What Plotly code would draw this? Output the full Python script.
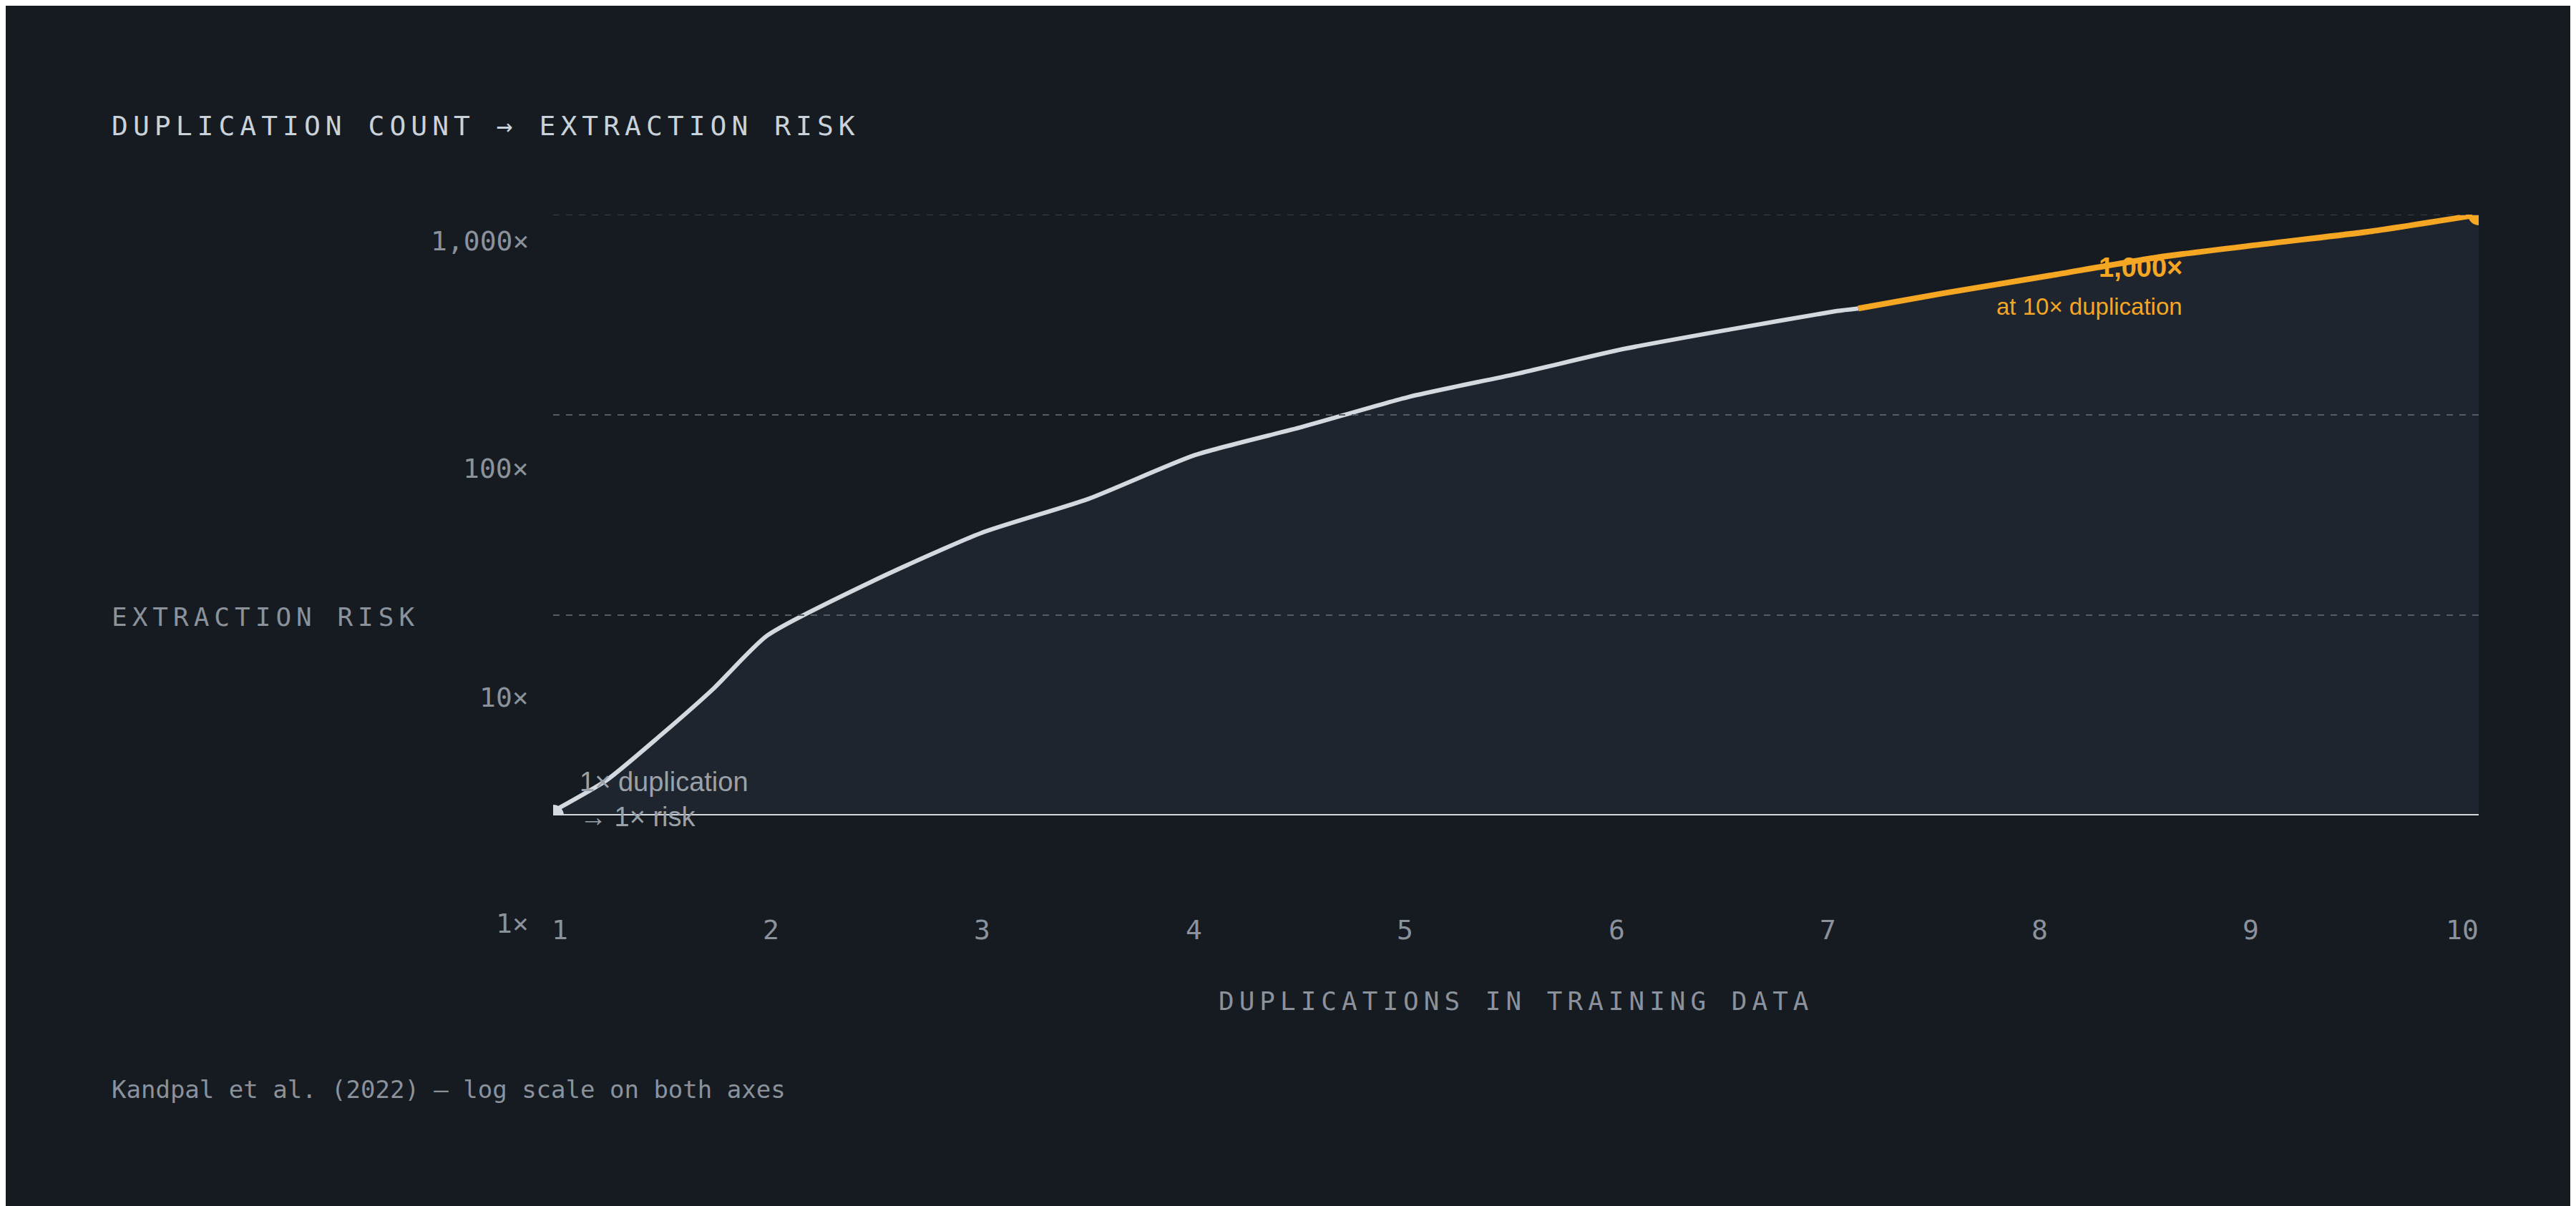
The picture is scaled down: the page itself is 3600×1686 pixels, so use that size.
import plotly.graph_objects as go

# white part of the curve (duplications -> extraction risk)
dup_white = [1, 1.25, 1.5, 1.75, 2, 2.5, 3, 3.5, 4, 4.5, 5, 5.5, 6, 6.5, 7, 7.1]
risk_white = [1.05, 1.5, 2.5, 4.3, 7.9, 14.9, 25.7, 38, 63, 87, 123, 160, 213, 267, 330, 340]
# orange highlighted tail
dup_orange = [7.1, 7.5, 8, 8.5, 9, 9.5, 10]
risk_orange = [340, 405, 497, 612, 713, 826, 1000]

x_ticks = list(range(1, 11))
y_labels = ["1,000×", "100×", "10×", "1×"]
y_label_pos = [0.956, 0.577, 0.197, -0.18]
grid_vals = [10, 100, 1000]

BG = "#161b22"
MONO = "DejaVu Sans Mono"
GRAY = "#8b929b"
ORANGE = "#f5a623"
WHITE = "#d4d9df"

fig = go.Figure()

# baseline at 1x, used as fill floor
fig.add_trace(go.Scatter(x=[1, 10], y=[1, 1], mode="lines",
                         line=dict(color=WHITE, width=4), hoverinfo="skip"))
fig.add_trace(go.Scatter(x=dup_white + dup_orange[1:], y=risk_white + risk_orange[1:],
                         mode="lines", line=dict(width=0, shape="spline", smoothing=0.6),
                         fill="tonexty", fillcolor="#1f252e", hoverinfo="skip"))
fig.add_trace(go.Scatter(x=dup_white, y=risk_white, mode="lines",
                         line=dict(color=WHITE, width=6, shape="spline", smoothing=0.6)))
fig.add_trace(go.Scatter(x=dup_orange, y=risk_orange, mode="lines",
                         line=dict(color=ORANGE, width=8, shape="spline", smoothing=0.6)))
fig.add_trace(go.Scatter(x=[1], y=[1], mode="markers",
                         marker=dict(color=WHITE, size=30)))
fig.add_trace(go.Scatter(x=[10], y=[1000], mode="markers",
                         marker=dict(color=ORANGE, size=30)))

shapes = [dict(type="line", xref="paper", x0=0, x1=1, yref="y", y0=v, y1=v,
               layer="above", line=dict(color="#565c64" if v < 1000 else "#3a4048",
                                        width=2, dash="dash"))
          for v in grid_vals]

annotations = []
for lab, yp in zip(y_labels, y_label_pos):
    annotations.append(dict(text=lab, x=-0.012, y=yp, xref="paper", yref="paper",
                            xanchor="right", yanchor="middle", showarrow=False,
                            font=dict(family=MONO, size=38, color=GRAY)))
for t in x_ticks:
    annotations.append(dict(text=str(t), x=t, y=-0.19, xref="x", yref="paper",
                            xanchor="center", yanchor="middle", showarrow=False,
                            xshift=9 - 32 * (t - 1) / 9,
                            font=dict(family=MONO, size=38, color=GRAY)))

sp = "letter-spacing:7px"
annotations += [
    dict(text=f'<span style="{sp}">DUPLICATION COUNT → EXTRACTION RISK</span>',
         x=-0.23, y=1.148, xref="paper", yref="paper", xanchor="left", yanchor="middle",
         showarrow=False, font=dict(family=MONO, size=38, color="#c9d1d9")),
    dict(text=f'<span style="{sp}">EXTRACTION RISK</span>',
         x=-0.23, y=0.33, xref="paper", yref="paper", xanchor="left", yanchor="middle",
         showarrow=False, font=dict(family=MONO, size=36, color=GRAY)),
    dict(text=f'<span style="{sp}">DUPLICATIONS IN TRAINING DATA</span>',
         x=0.5, y=-0.309, xref="paper", yref="paper", xanchor="center", yanchor="middle",
         showarrow=False, font=dict(family=MONO, size=36, color=GRAY)),
    dict(text="Kandpal et al. (2022) — log scale on both axes",
         x=-0.23, y=-0.456, xref="paper", yref="paper", xanchor="left", yanchor="middle",
         showarrow=False, font=dict(family=MONO, size=34, color=GRAY)),
    dict(text="<b>1,000×</b>", x=0.847, y=0.912, xref="paper", yref="paper",
         xanchor="right", yanchor="middle", showarrow=False,
         font=dict(family="Liberation Sans", size=38, color=ORANGE)),
    dict(text="at 10× duplication", x=0.847, y=0.847, xref="paper", yref="paper",
         xanchor="right", yanchor="middle", showarrow=False,
         font=dict(family="Liberation Sans", size=33, color=ORANGE)),
    dict(text="1× duplication<br>→ 1× risk", x=0.013, y=-0.03, xref="paper", yref="paper",
         xanchor="left", yanchor="bottom", align="left", showarrow=False,
         font=dict(family="Liberation Sans", size=38, color="#9aa1a9")),
]

fig.update_layout(
    width=3600, height=1686,
    paper_bgcolor=BG, plot_bgcolor=BG,
    showlegend=False,
    margin=dict(l=765, r=144, t=292, b=554),
    xaxis=dict(range=[1, 10], showgrid=False, zeroline=False, showticklabels=False,
               showline=False),
    yaxis=dict(type="log", range=[0, 3], showgrid=False, showticklabels=False,
               zeroline=False),
    shapes=shapes,
    annotations=annotations,
)

fig.write_html("out.html")
